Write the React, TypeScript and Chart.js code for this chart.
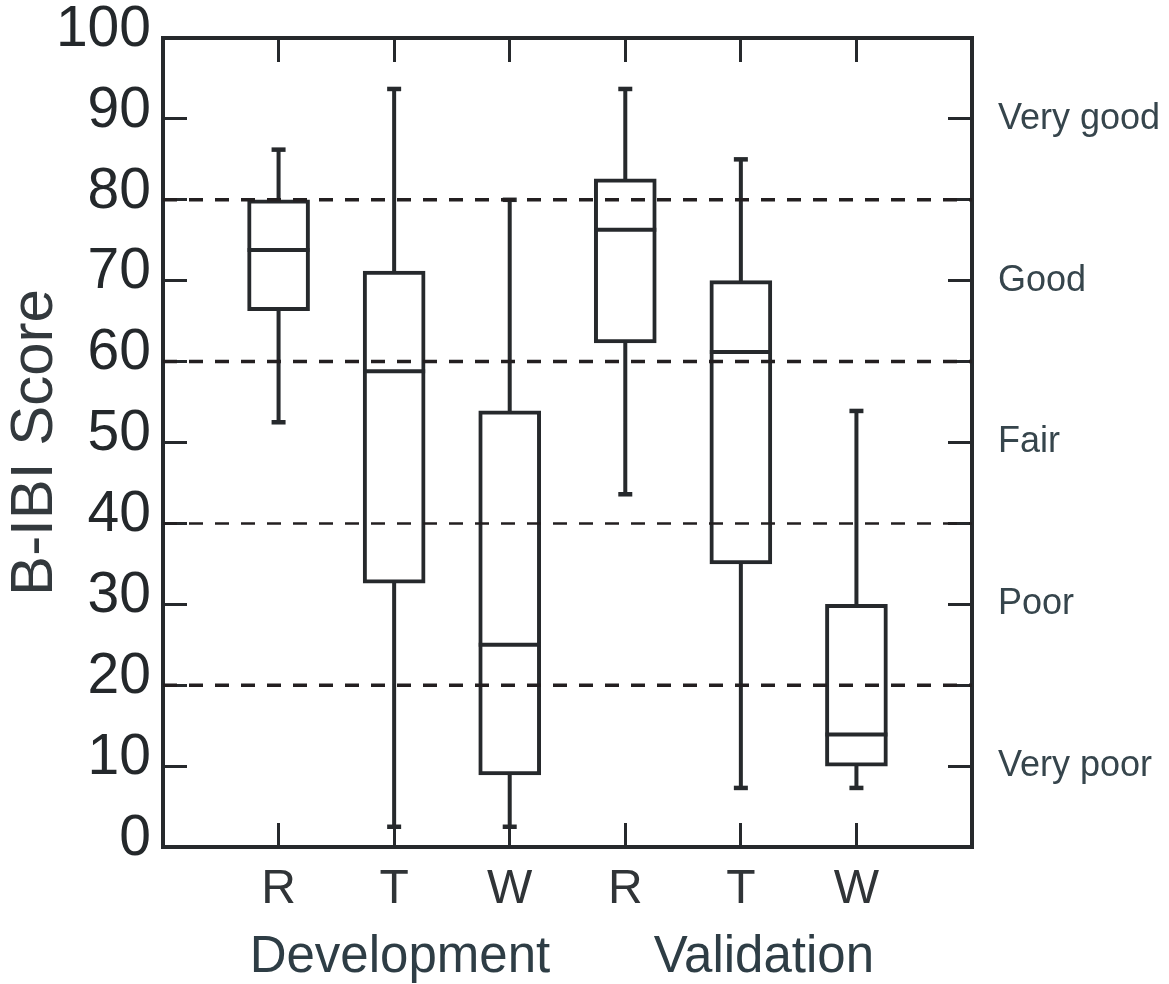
import React, { useEffect, useRef } from 'react';
import { Chart, registerables } from 'chart.js';

Chart.register(...registerables);

// ---- data ----
const categories = ['R', 'T', 'W', 'R', 'T', 'W'];
const groupNames = ['Development', 'Validation'];
const groupCenters = [2.05, 5.2];
const whiskerLow = [52.5, 2.5, 2.5, 43.6, 7.3, 7.3];
const quartile1 = [66.3, 32.6, 8.9, 62.3, 35.0, 10.0];
const medians = [73.8, 58.8, 25.0, 76.3, 61.2, 13.9];
const quartile3 = [80.0, 71.2, 53.9, 82.6, 70.0, 30.0];
const whiskerHigh = [86.2, 93.7, 80.0, 93.7, 85.0, 53.9];
const thresholds = [20, 40, 60, 80];
const ratingTicks = [10, 30, 50, 70, 90];
const ratingLabels = ['Very poor', 'Poor', 'Fair', 'Good', 'Very good'];
const yMin = 0;
const yMax = 100;
const yStep = 10;
const xMin = 0;
const xMax = categories.length + 1;

const INK = '#26292c';
const FONT = "'Liberation Sans', Arial, Helvetica, sans-serif";

export default function App() {
  const ref = useRef<HTMLCanvasElement | null>(null);

  useEffect(() => {
    if (!ref.current) return;
    const xs = categories.map((_, i) => i + 1);

    const whiskerData: any[] = [];
    xs.forEach((x, i) => {
      whiskerData.push({ x, y: whiskerLow[i] });
      whiskerData.push({ x, y: whiskerHigh[i] });
      whiskerData.push({ x, y: null });
    });
    const capData = [
      ...xs.map((x, i) => ({ x, y: whiskerLow[i] })),
      ...xs.map((x, i) => ({ x, y: whiskerHigh[i] })),
    ];

    const tickGrid = {
      drawOnChartArea: false,
      offset: false,
      tickLength: -24,
      tickWidth: 3,
      tickColor: INK,
    };
    const frame = { display: true, width: 4, color: INK };

    const chart = new Chart(ref.current, {
      type: 'bar',
      data: {
        datasets: [
          ...thresholds.map((t) => ({
            type: 'line' as const,
            data: [
              { x: xMin, y: t },
              { x: xMax, y: t },
            ],
            borderColor: '#231f20',
            borderWidth: t === 40 ? 2.5 : 3.5,
            borderDash: [14, 12],
            pointRadius: 0,
            order: 0,
          })),
          {
            type: 'line' as const,
            data: xs.map((x, i) => ({ x, y: medians[i] })),
            showLine: false,
            pointStyle: 'line',
            pointRadius: 31,
            pointBorderWidth: 4,
            pointBorderColor: INK,
            order: 1,
          },
          {
            type: 'line' as const,
            data: capData,
            showLine: false,
            pointStyle: 'line',
            pointRadius: 7,
            pointBorderWidth: 4.5,
            pointBorderColor: INK,
            order: 1,
          },
          {
            type: 'bar' as const,
            data: xs.map((x, i) => ({ x, y: [quartile1[i], quartile3[i]] })),
            backgroundColor: '#ffffff',
            borderColor: INK,
            borderWidth: 4,
            borderSkipped: false,
            barThickness: 62,
            order: 2,
          },
          {
            type: 'line' as const,
            data: whiskerData,
            borderColor: INK,
            borderWidth: 4,
            pointRadius: 0,
            spanGaps: false,
            order: 3,
          },
        ] as any,
      },
      options: {
        responsive: false,
        animation: false,
        events: [],
        layout: { padding: 0 },
        plugins: {
          legend: { display: false },
          tooltip: { enabled: false },
        },
        scales: {
          x: {
            type: 'linear',
            position: 'bottom',
            min: xMin,
            max: xMax,
            offset: false,
            afterBuildTicks: (s: any) => {
              s.ticks = xs.map((v) => ({ value: v }));
            },
            ticks: {
              callback: (_v: any, i: number) => categories[i],
              autoSkip: false,
              maxRotation: 0,
              padding: 38,
              font: { family: FONT, size: 48 },
              color: '#303437',
            },
            grid: tickGrid,
            border: frame,
            afterFit: (s: any) => {
              s.height = 70;
              s.paddingLeft = 0;
              s.paddingRight = 0;
            },
          },
          x2: {
            type: 'linear',
            position: 'bottom',
            weight: 1,
            min: xMin,
            max: xMax,
            offset: false,
            afterBuildTicks: (s: any) => {
              s.ticks = groupCenters.map((v) => ({ value: v }));
            },
            ticks: {
              callback: (_v: any, i: number) => groupNames[i],
              autoSkip: false,
              maxRotation: 0,
              padding: 10,
              font: { family: FONT, size: 51 },
              color: '#2e3d45',
            },
            grid: { display: false, drawTicks: false },
            border: { display: false },
            afterFit: (s: any) => {
              s.height = 67;
              s.paddingLeft = 0;
              s.paddingRight = 0;
            },
          },
          xTop: {
            type: 'linear',
            position: 'top',
            min: xMin,
            max: xMax,
            offset: false,
            afterBuildTicks: (s: any) => {
              s.ticks = xs.map((v) => ({ value: v }));
            },
            ticks: { display: false },
            grid: tickGrid,
            border: frame,
            afterFit: (s: any) => {
              s.height = 38;
              s.paddingLeft = 0;
              s.paddingRight = 0;
            },
          },
          y: {
            type: 'linear',
            position: 'left',
            min: yMin,
            max: yMax,
            ticks: {
              stepSize: yStep,
              autoSkip: false,
              padding: 36,
              labelOffset: -8,
              font: { family: FONT, size: 57 },
              color: '#24282b',
            },
            grid: tickGrid,
            border: frame,
            title: {
              display: true,
              text: 'B-IBI Score',
              font: { family: FONT, size: 60, lineHeight: 1.1 },
              padding: { top: 2, bottom: 0 },
              color: '#33393d',
            },
            afterFit: (s: any) => {
              s.width = 163;
              s.paddingTop = 0;
              s.paddingBottom = 0;
            },
          },
          yR: {
            type: 'linear',
            position: 'right',
            min: yMin,
            max: yMax,
            ticks: {
              stepSize: yStep,
              autoSkip: false,
              padding: 50,
              callback: (v: any) => {
                const k = ratingTicks.indexOf(Number(v));
                return k >= 0 ? ratingLabels[k] : '';
              },
              font: { family: FONT, size: 36 },
              color: '#36454c',
            },
            grid: tickGrid,
            border: frame,
            afterFit: (s: any) => {
              s.width = 197;
              s.paddingTop = 0;
              s.paddingBottom = 0;
            },
          },
        } as any,
      },
    });

    return () => chart.destroy();
  }, []);

  return (
    <div style={{ position: 'absolute', left: 0, top: 0, width: 1169, height: 984, background: '#ffffff' }}>
      <canvas ref={ref} width={1169} height={984} style={{ display: 'block', width: 1169, height: 984 }} />
    </div>
  );
}
